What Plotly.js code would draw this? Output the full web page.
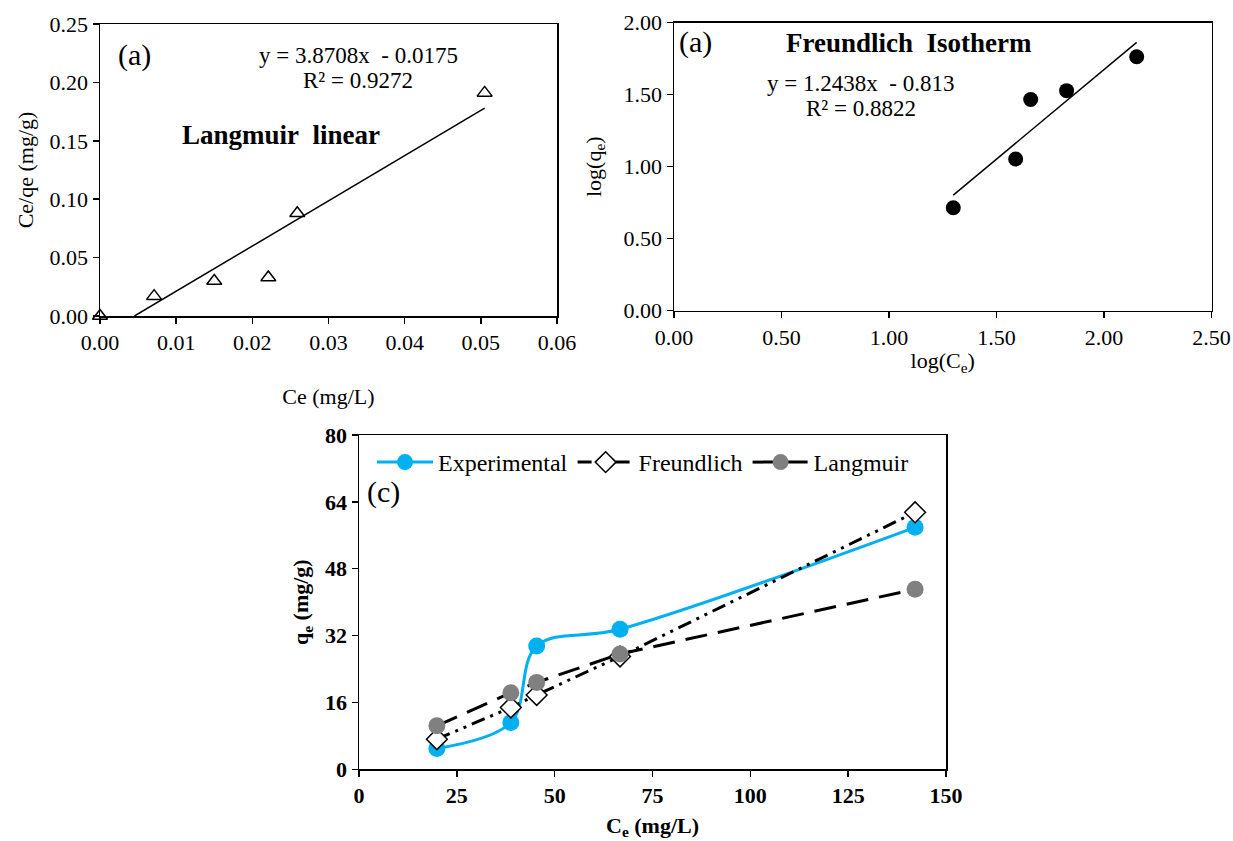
<!DOCTYPE html>
<html>
<head>
<meta charset="utf-8">
<script src="https://cdn.plot.ly/plotly-3.0.1.min.js"></script>
<style>
  html, body { margin: 0; padding: 0; background: #ffffff; }
  #chart { width: 1233px; height: 841px; }
</style>
</head>
<body>
<div id="chart"></div>
<script>
// ---------- DATA ----------
// (a) Langmuir linear
const langCe = [0.0000, 0.0071, 0.0150, 0.0221, 0.0259, 0.0505];
const langCeQe = [0.000, 0.017, 0.030, 0.033, 0.088, 0.191];
const langSlope = 3.8708;
const langIntercept = -0.0175;
const langR2 = 0.9272;

// (a) Freundlich isotherm
const frLogCe = [1.299, 1.589, 1.659, 1.826, 2.152];
const frLogQe = [0.715, 1.053, 1.467, 1.528, 1.764];
const frSlope = 1.2438;
const frIntercept = -0.813;
const frR2 = 0.8822;

// (c) model comparison
const ce = [19.9, 38.8, 45.4, 66.7, 142.1];
const qeExperimental = [5.0, 11.2, 29.5, 33.5, 57.9];
const qeFreundlich = [7.2, 14.8, 17.8, 27.0, 61.5];
const qeLangmuir = [10.4, 18.3, 20.8, 27.6, 43.1];

// tick labels
const xTicks1 = [0, 0.01, 0.02, 0.03, 0.04, 0.05, 0.06];
const yTicks1 = [0, 0.05, 0.10, 0.15, 0.20, 0.25];
const xTicks2 = [0, 0.5, 1.0, 1.5, 2.0, 2.5];
const yTicks2 = [0, 0.5, 1.0, 1.5, 2.0];
const xTicks3 = [0, 25, 50, 75, 100, 125, 150];
const yTicks3 = [0, 16, 32, 48, 64, 80];

// ---------- HELPERS ----------
const W = 1233, H = 841;
const px = x => x / W;
const py = y => 1 - y / H;
const FONT = "'Liberation Serif', serif";
const fmtEq = (m, b) => 'y = ' + m + 'x\u00A0 ' + (b < 0 ? '- ' : '+ ') + Math.abs(b);

// trendlines computed from fitted equations
const langX = [-langIntercept / langSlope, Math.max(...langCe)];
const langY = langX.map(x => langSlope * x + langIntercept);
const frX = [Math.min(...frLogCe), Math.max(...frLogCe)];
const frY = frX.map(x => frSlope * x + frIntercept);

const traces = [
  { x: langCe, y: langCeQe, xaxis: 'x', yaxis: 'y', mode: 'markers', type: 'scatter',
    showlegend: false, cliponaxis: false,
    marker: { symbol: 'triangle-up', size: 13, color: '#ffffff', line: { color: '#000000', width: 1.5 } } },
  { x: langX, y: langY, xaxis: 'x', yaxis: 'y', mode: 'lines', type: 'scatter',
    showlegend: false, line: { color: '#000000', width: 1.5 } },

  { x: frLogCe, y: frLogQe, xaxis: 'x2', yaxis: 'y2', mode: 'markers', type: 'scatter',
    showlegend: false, cliponaxis: false,
    marker: { symbol: 'circle', size: 15, color: '#000000' } },
  { x: frX, y: frY, xaxis: 'x2', yaxis: 'y2', mode: 'lines', type: 'scatter',
    showlegend: false, line: { color: '#000000', width: 1.5 } },

  { x: ce, y: qeExperimental, xaxis: 'x3', yaxis: 'y3', mode: 'lines+markers', type: 'scatter',
    name: 'Experimental', cliponaxis: false,
    line: { color: '#00B0F0', width: 3, shape: 'spline', smoothing: 1 },
    marker: { symbol: 'circle', size: 17, color: '#00B0F0' } },
  { x: ce, y: qeFreundlich, xaxis: 'x3', yaxis: 'y3', mode: 'lines+markers', type: 'scatter',
    name: 'Freundlich', cliponaxis: false,
    line: { color: '#000000', width: 3, dash: '14px,6px,3px,6px,3px,6px' },
    marker: { symbol: 'diamond', size: 16, color: '#ffffff', line: { color: '#000000', width: 1.5 } } },
  { x: ce, y: qeLangmuir, xaxis: 'x3', yaxis: 'y3', mode: 'lines+markers', type: 'scatter',
    name: 'Langmuir', cliponaxis: false,
    line: { color: '#000000', width: 3, dash: '22px,11px' },
    marker: { symbol: 'circle', size: 17, color: '#808080' } }
];

const tickFont = { family: FONT, size: 22, color: '#000000' };
const tickFontBold = { family: FONT, size: 22, color: '#000000', weight: 700 };
const baseAxis = {
  showline: true, mirror: true, linecolor: '#000000', linewidth: 1.5,
  ticks: 'outside', ticklen: 6, tickwidth: 1.5, tickcolor: '#000000',
  showgrid: false, zeroline: false, fixedrange: true, tickmode: 'array'
};

const layout = {
  width: W, height: H,
  margin: { l: 0, r: 0, t: 0, b: 0 },
  paper_bgcolor: '#ffffff', plot_bgcolor: '#ffffff',
  font: { family: FONT, size: 22, color: '#000000' },
  showlegend: true,
  legend: {
    orientation: 'h', x: px(372), xanchor: 'left', y: py(440), yanchor: 'top',
    font: { family: FONT, size: 24, color: '#000000' },
    bgcolor: 'rgba(0,0,0,0)', itemwidth: 56, tracegroupgap: 0
  },
  xaxis: Object.assign({}, baseAxis, {
    domain: [px(100), px(557)], range: [0, 0.06], anchor: 'y',
    tickvals: xTicks1, ticktext: xTicks1.map(v => v.toFixed(2)), tickfont: tickFont,
    title: { text: 'Ce (mg/L)', font: { family: FONT, size: 22, color: '#000000' }, standoff: 34 }
  }),
  yaxis: Object.assign({}, baseAxis, {
    domain: [py(316), py(24)], range: [0, 0.25], anchor: 'x',
    tickvals: yTicks1, ticktext: yTicks1.map(v => v.toFixed(2)), tickfont: tickFont,
    title: { text: 'Ce/qe (mg/g)', font: { family: FONT, size: 22, color: '#000000' }, standoff: 10 }
  }),
  xaxis2: Object.assign({}, baseAxis, {
    domain: [px(674), px(1211.5)], range: [0, 2.5], anchor: 'y2',
    tickvals: xTicks2, ticktext: xTicks2.map(v => v.toFixed(2)), tickfont: tickFont,
    title: { text: 'log(C<sub>e</sub>)', font: { family: FONT, size: 22, color: '#000000' }, standoff: 4 }
  }),
  yaxis2: Object.assign({}, baseAxis, {
    domain: [py(310.7), py(22.7)], range: [0, 2.0], anchor: 'x2',
    tickvals: yTicks2, ticktext: yTicks2.map(v => v.toFixed(2)), tickfont: tickFont,
    title: { text: 'log(q<sub>e</sub>)', font: { family: FONT, size: 22, color: '#000000' }, standoff: 16 }
  }),
  xaxis3: Object.assign({}, baseAxis, {
    domain: [px(359), px(946)], range: [0, 150], anchor: 'y3',
    tickvals: xTicks3, ticktext: xTicks3.map(String), tickfont: tickFontBold,
    title: { text: 'C<sub>e</sub> (mg/L)', font: { family: FONT, size: 22, color: '#000000', weight: 700 }, standoff: 10 }
  }),
  yaxis3: Object.assign({}, baseAxis, {
    domain: [py(769.3), py(435)], range: [0, 80], anchor: 'x3',
    tickvals: yTicks3, ticktext: yTicks3.map(String), tickfont: tickFontBold,
    title: { text: 'q<sub>e</sub> (mg/g)', font: { family: FONT, size: 22, color: '#000000', weight: 700 }, standoff: 10 }
  }),
  annotations: [
    { text: '(a)', x: px(134), y: py(55), font: { family: FONT, size: 30, color: '#000000' } },
    { text: fmtEq(langSlope, langIntercept), x: px(358), y: py(55), font: { family: FONT, size: 23, color: '#000000' } },
    { text: 'R² = ' + langR2, x: px(358), y: py(80), font: { family: FONT, size: 23, color: '#000000' } },
    { text: 'Langmuir\u00A0 linear', x: px(280.5), y: py(135), font: { family: FONT, size: 27, color: '#000000', weight: 700 } },
    { text: '(a)', x: px(695), y: py(42), font: { family: FONT, size: 30, color: '#000000' } },
    { text: 'Freundlich\u00A0 Isotherm', x: px(909), y: py(43), font: { family: FONT, size: 27, color: '#000000', weight: 700 } },
    { text: fmtEq(frSlope, frIntercept), x: px(860), y: py(83), font: { family: FONT, size: 23, color: '#000000' } },
    { text: 'R² = ' + frR2, x: px(861), y: py(109), font: { family: FONT, size: 23, color: '#000000' } },
    { text: '(c)', x: px(383), y: py(492), font: { family: FONT, size: 30, color: '#000000' } }
  ].map(a => Object.assign({ xref: 'paper', yref: 'paper', showarrow: false,
    xanchor: 'center', yanchor: 'middle' }, a))
};

Plotly.newPlot('chart', traces, layout, { displayModeBar: false, staticPlot: true });
</script>
</body>
</html>
